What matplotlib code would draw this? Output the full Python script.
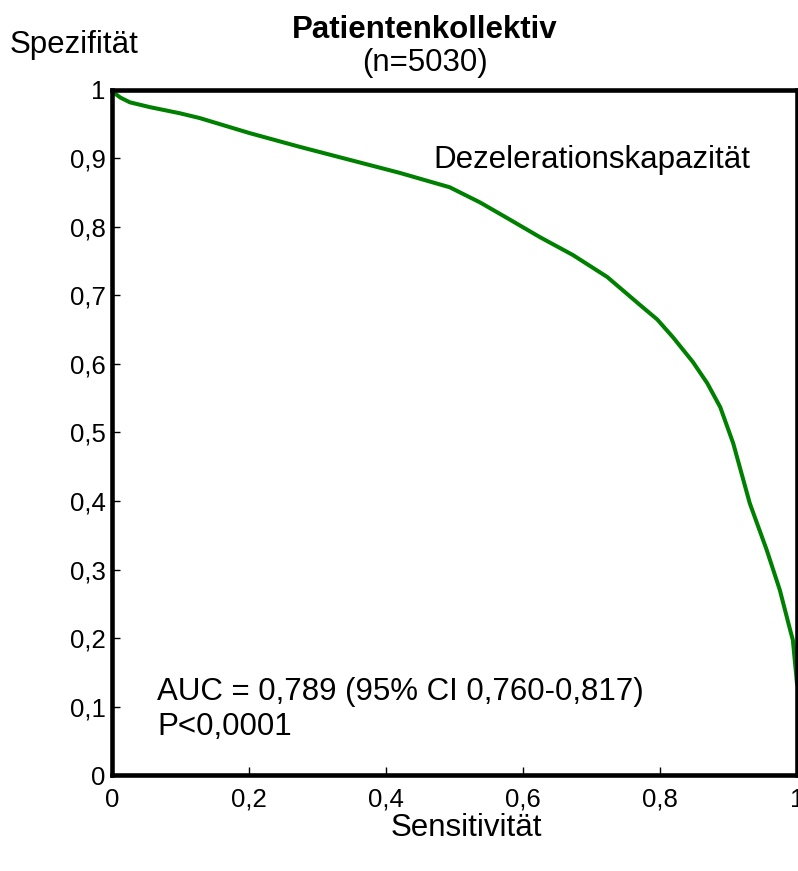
import numpy as np
import matplotlib
matplotlib.use("Agg")
import matplotlib.pyplot as plt
from matplotlib.ticker import FuncFormatter

plt.rcParams["font.family"] = ["Liberation Sans", "DejaVu Sans"]

# ROC-Kurve
sensitivitaet = [0.0, 0.004, 0.012, 0.026, 0.055, 0.099, 0.128, 0.201, 0.274, 0.347,
                 0.420, 0.479, 0.493, 0.537, 0.577, 0.625, 0.673, 0.723, 0.771, 0.796,
                 0.819, 0.848, 0.869, 0.888, 0.907, 0.931, 0.956, 0.975, 0.990, 0.994,
                 1.0]
spezifitaet = [1.0, 0.995, 0.989, 0.982, 0.975, 0.966, 0.959, 0.937, 0.917, 0.898,
               0.879, 0.862, 0.858, 0.836, 0.813, 0.785, 0.759, 0.727, 0.686, 0.665,
               0.639, 0.603, 0.572, 0.537, 0.484, 0.397, 0.328, 0.270, 0.212, 0.197,
               0.134]
ticks = [0, 0.1, 0.2, 0.3, 0.4, 0.5, 0.6, 0.7, 0.8, 0.9, 1.0]
xticks = [0, 0.2, 0.4, 0.6, 0.8, 1.0]

def komma(v, pos):
    if abs(v) < 1e-9:
        return "0"
    if abs(v - 1) < 1e-9:
        return "1"
    return ("%.1f" % v).replace(".", ",")

fig = plt.figure(figsize=(7.98, 8.71), dpi=100)
ax = fig.add_axes([0.1404, 0.1102, 0.8583, 0.7865])

ax.plot(sensitivitaet, spezifitaet, color="#008000", lw=2.9, solid_joinstyle="round")

ax.set_xlim(0, 1)
ax.set_ylim(0, 1)
ax.set_xticks(xticks)
ax.set_yticks(ticks)
ax.xaxis.set_major_formatter(FuncFormatter(komma))
ax.yaxis.set_major_formatter(FuncFormatter(komma))
ax.tick_params(direction="in", length=6, width=1, labelsize=18.5)
ax.tick_params(axis="x", pad=9)
ax.tick_params(axis="y", pad=4.5)
for s in ax.spines.values():
    s.set_linewidth(3.3)

ax.text(0.469, 0.898, "Dezelerationskapazität", fontsize=22.5, va="center", ha="left")
ax.text(0.066, 0.121, "AUC = 0,789 (95% CI 0,760-0,817)", fontsize=22.5, va="center")
ax.text(0.066, 0.070, "P<0,0001", fontsize=22.5, va="center")

fig.text(0.5326, 0.9656, "Patientenkollektiv", fontsize=22.5, fontweight="bold",
         ha="center", va="center")
fig.text(0.5326, 0.9277, "(n=5030)", fontsize=22.5, ha="center", va="center")
fig.text(0.0927, 0.9483, "Spezifität", fontsize=22.5, ha="center", va="center")
fig.text(0.585, 0.0495, "Sensitivität", fontsize=22.5, ha="center", va="center")

fig.savefig("out.png", dpi=100)
